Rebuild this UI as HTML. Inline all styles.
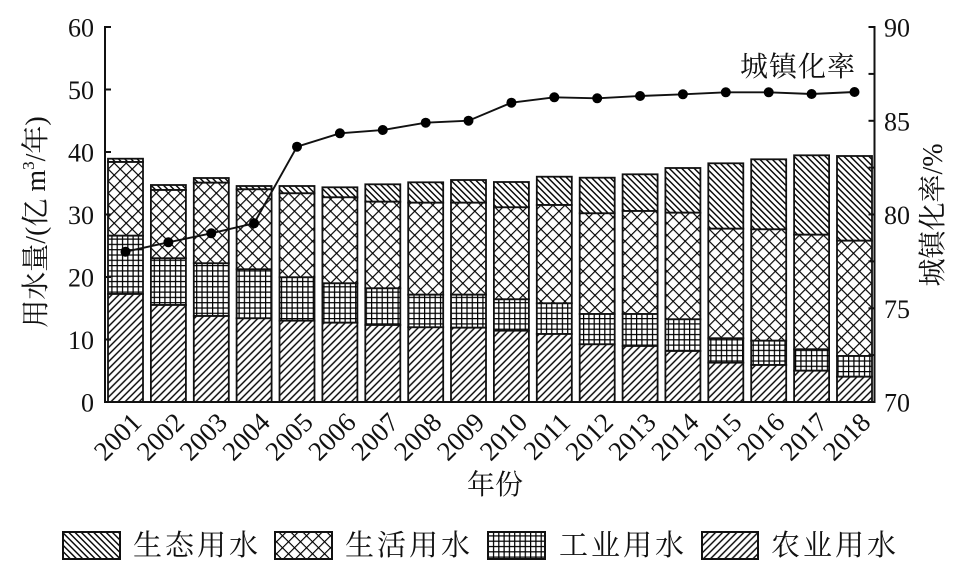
<!DOCTYPE html>
<html><head><meta charset="utf-8">
<style>
html,body{margin:0;padding:0;background:#fff;}
svg{display:block;}
.num{font-family:"Liberation Serif","Noto Serif CJK SC",serif;font-size:26px;fill:#111;}
.cjk{font-family:"Liberation Serif","Noto Serif CJK SC","Noto Sans CJK SC",serif;fill:#111;}
</style></head>
<body>
<svg width="968" height="570" viewBox="0 0 968 570" xmlns="http://www.w3.org/2000/svg">
<defs>
<pattern id="eco" patternUnits="userSpaceOnUse" width="4.4" height="10" patternTransform="rotate(-45)">
<rect width="4.4" height="10" fill="#fff"/>
<line x1="2.2" y1="-1" x2="2.2" y2="11" stroke="#000" stroke-width="1.4"/>
</pattern>
<pattern id="agri" patternUnits="userSpaceOnUse" width="5" height="10" patternTransform="rotate(45)">
<rect width="5" height="10" fill="#fff"/>
<line x1="2.5" y1="-1" x2="2.5" y2="11" stroke="#000" stroke-width="1.4"/>
</pattern>
<pattern id="liv" patternUnits="userSpaceOnUse" width="8.5" height="8.5" patternTransform="rotate(45)">
<rect width="8.5" height="8.5" fill="#fff"/>
<line x1="0" y1="-1" x2="0" y2="9.5" stroke="#000" stroke-width="2.3"/>
<line x1="-1" y1="0" x2="9.5" y2="0" stroke="#000" stroke-width="2.3"/>
</pattern>
<pattern id="ind" patternUnits="userSpaceOnUse" width="5.3" height="5.3">
<rect width="5.3" height="5.3" fill="#fff"/>
<line x1="0.6" y1="0" x2="0.6" y2="5.3" stroke="#000" stroke-width="1.25"/>
<line x1="0" y1="0.6" x2="5.3" y2="0.6" stroke="#000" stroke-width="1.25"/>
</pattern>
</defs>

<!-- bars -->
<g stroke="#111" stroke-width="1.8">
<!-- 2001 -->
<rect x="108.0" y="158.7" width="35" height="3.3" fill="url(#eco)"/>
<rect x="108.0" y="162" width="35" height="73.7" fill="url(#liv)"/>
<rect x="108.0" y="235.7" width="35" height="58.3" fill="url(#ind)"/>
<rect x="108.0" y="294" width="35" height="108" fill="url(#agri)"/>
<!-- 2002 -->
<rect x="150.9" y="185" width="35" height="5" fill="url(#eco)"/>
<rect x="150.9" y="190" width="35" height="68.3" fill="url(#liv)"/>
<rect x="150.9" y="258.3" width="35" height="46.7" fill="url(#ind)"/>
<rect x="150.9" y="305" width="35" height="97" fill="url(#agri)"/>
<!-- 2003 -->
<rect x="193.8" y="178" width="35" height="4.7" fill="url(#eco)"/>
<rect x="193.8" y="182.7" width="35" height="80.6" fill="url(#liv)"/>
<rect x="193.8" y="263.3" width="35" height="52.7" fill="url(#ind)"/>
<rect x="193.8" y="316" width="35" height="86" fill="url(#agri)"/>
<!-- 2004 -->
<rect x="236.6" y="186" width="35" height="3.3" fill="url(#eco)"/>
<rect x="236.6" y="189.3" width="35" height="80" fill="url(#liv)"/>
<rect x="236.6" y="269.3" width="35" height="49" fill="url(#ind)"/>
<rect x="236.6" y="318.3" width="35" height="83.7" fill="url(#agri)"/>
<!-- 2005 -->
<rect x="279.5" y="186" width="35" height="7.3" fill="url(#eco)"/>
<rect x="279.5" y="193.3" width="35" height="84" fill="url(#liv)"/>
<rect x="279.5" y="277.3" width="35" height="43.4" fill="url(#ind)"/>
<rect x="279.5" y="320.7" width="35" height="81.3" fill="url(#agri)"/>
<!-- 2006 -->
<rect x="322.4" y="187.3" width="35" height="10" fill="url(#eco)"/>
<rect x="322.4" y="197.3" width="35" height="86" fill="url(#liv)"/>
<rect x="322.4" y="283.3" width="35" height="39.4" fill="url(#ind)"/>
<rect x="322.4" y="322.7" width="35" height="79.3" fill="url(#agri)"/>
<!-- 2007 -->
<rect x="365.3" y="184.3" width="35" height="17.4" fill="url(#eco)"/>
<rect x="365.3" y="201.7" width="35" height="86.6" fill="url(#liv)"/>
<rect x="365.3" y="288.3" width="35" height="36.7" fill="url(#ind)"/>
<rect x="365.3" y="325" width="35" height="77" fill="url(#agri)"/>
<!-- 2008 -->
<rect x="408.2" y="182.3" width="35" height="20.4" fill="url(#eco)"/>
<rect x="408.2" y="202.7" width="35" height="92" fill="url(#liv)"/>
<rect x="408.2" y="294.7" width="35" height="32.6" fill="url(#ind)"/>
<rect x="408.2" y="327.3" width="35" height="74.7" fill="url(#agri)"/>
<!-- 2009 -->
<rect x="451.0" y="180" width="35" height="22.7" fill="url(#eco)"/>
<rect x="451.0" y="202.7" width="35" height="92" fill="url(#liv)"/>
<rect x="451.0" y="294.7" width="35" height="33" fill="url(#ind)"/>
<rect x="451.0" y="327.7" width="35" height="74.3" fill="url(#agri)"/>
<!-- 2010 -->
<rect x="493.9" y="182" width="35" height="25.3" fill="url(#eco)"/>
<rect x="493.9" y="207.3" width="35" height="92" fill="url(#liv)"/>
<rect x="493.9" y="299.3" width="35" height="31.4" fill="url(#ind)"/>
<rect x="493.9" y="330.7" width="35" height="71.3" fill="url(#agri)"/>
<!-- 2011 -->
<rect x="536.8" y="176.7" width="35" height="28.3" fill="url(#eco)"/>
<rect x="536.8" y="205" width="35" height="98.3" fill="url(#liv)"/>
<rect x="536.8" y="303.3" width="35" height="30.7" fill="url(#ind)"/>
<rect x="536.8" y="334" width="35" height="68" fill="url(#agri)"/>
<!-- 2012 -->
<rect x="579.7" y="177.7" width="35" height="35.6" fill="url(#eco)"/>
<rect x="579.7" y="213.3" width="35" height="100.7" fill="url(#liv)"/>
<rect x="579.7" y="314" width="35" height="30.3" fill="url(#ind)"/>
<rect x="579.7" y="344.3" width="35" height="57.7" fill="url(#agri)"/>
<!-- 2013 -->
<rect x="622.6" y="174.3" width="35" height="36.7" fill="url(#eco)"/>
<rect x="622.6" y="211" width="35" height="103" fill="url(#liv)"/>
<rect x="622.6" y="314" width="35" height="32" fill="url(#ind)"/>
<rect x="622.6" y="346" width="35" height="56" fill="url(#agri)"/>
<!-- 2014 -->
<rect x="665.4" y="168" width="35" height="44.7" fill="url(#eco)"/>
<rect x="665.4" y="212.7" width="35" height="106.6" fill="url(#liv)"/>
<rect x="665.4" y="319.3" width="35" height="31.7" fill="url(#ind)"/>
<rect x="665.4" y="351" width="35" height="51" fill="url(#agri)"/>
<!-- 2015 -->
<rect x="708.3" y="163.3" width="35" height="65.4" fill="url(#eco)"/>
<rect x="708.3" y="228.7" width="35" height="109.6" fill="url(#liv)"/>
<rect x="708.3" y="338.3" width="35" height="24.4" fill="url(#ind)"/>
<rect x="708.3" y="362.7" width="35" height="39.3" fill="url(#agri)"/>
<!-- 2016 -->
<rect x="751.2" y="159.3" width="35" height="70" fill="url(#eco)"/>
<rect x="751.2" y="229.3" width="35" height="111.4" fill="url(#liv)"/>
<rect x="751.2" y="340.7" width="35" height="24.3" fill="url(#ind)"/>
<rect x="751.2" y="365" width="35" height="37" fill="url(#agri)"/>
<!-- 2017 -->
<rect x="794.1" y="155.3" width="35" height="79.4" fill="url(#eco)"/>
<rect x="794.1" y="234.7" width="35" height="114.6" fill="url(#liv)"/>
<rect x="794.1" y="349.3" width="35" height="21.4" fill="url(#ind)"/>
<rect x="794.1" y="370.7" width="35" height="31.3" fill="url(#agri)"/>
<!-- 2018 -->
<rect x="837.0" y="156" width="35" height="84.7" fill="url(#eco)"/>
<rect x="837.0" y="240.7" width="35" height="115.3" fill="url(#liv)"/>
<rect x="837.0" y="356" width="35" height="20.7" fill="url(#ind)"/>
<rect x="837.0" y="376.7" width="35" height="25.3" fill="url(#agri)"/>
</g>

<!-- axes -->
<g stroke="#111" stroke-width="2" fill="none">
<line x1="105" y1="26" x2="105" y2="403"/>
<line x1="874.5" y1="26" x2="874.5" y2="403"/>
<line x1="104" y1="402" x2="875.5" y2="402"/>
<!-- left ticks -->
<line x1="105" y1="27" x2="111" y2="27"/>
<line x1="105" y1="89.5" x2="111" y2="89.5"/>
<line x1="105" y1="152" x2="111" y2="152"/>
<line x1="105" y1="214.5" x2="111" y2="214.5"/>
<line x1="105" y1="277" x2="111" y2="277"/>
<line x1="105" y1="339.5" x2="111" y2="339.5"/>
<!-- right ticks -->
<line x1="874.5" y1="27" x2="868.5" y2="27"/>
<line x1="874.5" y1="73.9" x2="868.5" y2="73.9"/>
<line x1="874.5" y1="120.8" x2="868.5" y2="120.8"/>
<line x1="874.5" y1="167.6" x2="868.5" y2="167.6"/>
<line x1="874.5" y1="214.5" x2="868.5" y2="214.5"/>
<line x1="874.5" y1="261.4" x2="868.5" y2="261.4"/>
<line x1="874.5" y1="308.3" x2="868.5" y2="308.3"/>
<line x1="874.5" y1="355.1" x2="868.5" y2="355.1"/>
</g>

<!-- urbanization line -->
<polyline fill="none" stroke="#111" stroke-width="1.9" points="125.5,251.7 168.4,242.3 211.3,233.3 254.1,223.3 297.0,146.7 339.9,133.3 382.8,130 425.7,122.7 468.5,120.7 511.4,102.7 554.3,97.3 597.2,98.3 640.1,96 682.9,94.3 725.8,92.3 768.7,92.3 811.6,94 854.5,92"/>
<g fill="#000">
<circle cx="125.5" cy="251.7" r="5"/>
<circle cx="168.4" cy="242.3" r="5"/>
<circle cx="211.3" cy="233.3" r="5"/>
<circle cx="254.1" cy="223.3" r="5"/>
<circle cx="297.0" cy="146.7" r="5"/>
<circle cx="339.9" cy="133.3" r="5"/>
<circle cx="382.8" cy="130" r="5"/>
<circle cx="425.7" cy="122.7" r="5"/>
<circle cx="468.5" cy="120.7" r="5"/>
<circle cx="511.4" cy="102.7" r="5"/>
<circle cx="554.3" cy="97.3" r="5"/>
<circle cx="597.2" cy="98.3" r="5"/>
<circle cx="640.1" cy="96" r="5"/>
<circle cx="682.9" cy="94.3" r="5"/>
<circle cx="725.8" cy="92.3" r="5"/>
<circle cx="768.7" cy="92.3" r="5"/>
<circle cx="811.6" cy="94" r="5"/>
<circle cx="854.5" cy="92" r="5"/>
</g>

<!-- left tick labels -->
<g class="num" text-anchor="end">
<text x="94" y="36.5">60</text>
<text x="94" y="99">50</text>
<text x="94" y="161.5">40</text>
<text x="94" y="224">30</text>
<text x="94" y="286.5">20</text>
<text x="94" y="349">10</text>
<text x="94" y="411.5">0</text>
</g>
<!-- right tick labels -->
<g class="num" text-anchor="start">
<text x="884" y="36.5">90</text>
<text x="884" y="130.3">85</text>
<text x="884" y="224">80</text>
<text x="884" y="317.8">75</text>
<text x="884" y="411.5">70</text>
</g>

<!-- x tick labels -->
<g class="num" text-anchor="end" style="font-size:27px">
<text transform="translate(143,424) rotate(-45)">2001</text>
<text transform="translate(185.9,424) rotate(-45)">2002</text>
<text transform="translate(228.8,424) rotate(-45)">2003</text>
<text transform="translate(271.6,424) rotate(-45)">2004</text>
<text transform="translate(314.5,424) rotate(-45)">2005</text>
<text transform="translate(357.4,424) rotate(-45)">2006</text>
<text transform="translate(400.3,424) rotate(-45)">2007</text>
<text transform="translate(443.2,424) rotate(-45)">2008</text>
<text transform="translate(486,424) rotate(-45)">2009</text>
<text transform="translate(528.9,424) rotate(-45)">2010</text>
<text transform="translate(571.8,424) rotate(-45)">2011</text>
<text transform="translate(614.7,424) rotate(-45)">2012</text>
<text transform="translate(657.6,424) rotate(-45)">2013</text>
<text transform="translate(700.4,424) rotate(-45)">2014</text>
<text transform="translate(743.3,424) rotate(-45)">2015</text>
<text transform="translate(786.2,424) rotate(-45)">2016</text>
<text transform="translate(829.1,424) rotate(-45)">2017</text>
<text transform="translate(872,424) rotate(-45)">2018</text>
</g>

<!-- axis titles -->
<text class="cjk" x="467" y="494" font-size="28">年份</text>
<text class="cjk" transform="translate(45,222) rotate(-90)" text-anchor="middle" font-size="28">用水量/(亿 m<tspan font-size="17" dy="-11">3</tspan><tspan dy="11">/年)</tspan></text>
<text class="cjk" transform="translate(942,215) rotate(-90)" text-anchor="middle" font-size="28">城镇化率/%</text>
<text class="cjk" x="740" y="76" font-size="28" letter-spacing="1">城镇化率</text>

<!-- legend -->
<g stroke="#111" stroke-width="2">
<rect x="63" y="532" width="57" height="27" fill="url(#eco)"/>
<rect x="275" y="532" width="57" height="27" fill="url(#liv)"/>
<rect x="488" y="532" width="57" height="27" fill="url(#ind)"/>
<rect x="702" y="532" width="56" height="27" fill="url(#agri)"/>
</g>
<g class="cjk" font-size="29" letter-spacing="3">
<text x="133" y="555">生态用水</text>
<text x="345" y="555">生活用水</text>
<text x="559" y="555">工业用水</text>
<text x="771" y="555">农业用水</text>
</g>
</svg>
</body></html>
